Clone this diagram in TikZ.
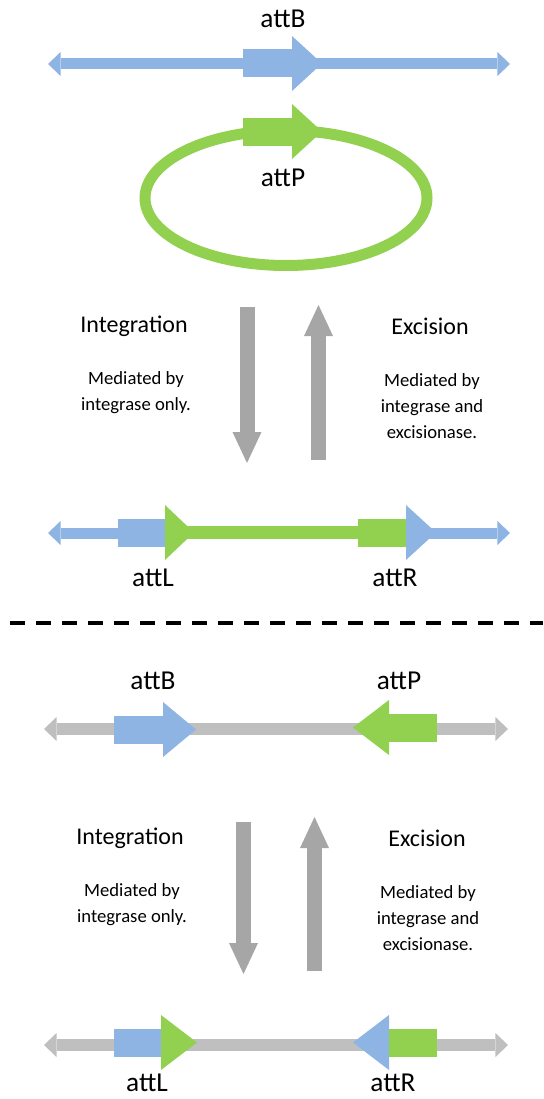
\documentclass[tikz,border=0pt]{standalone}
\usepackage{fontspec}
\setmainfont{Carlito}
\usepackage{tikz}
\usetikzlibrary{arrows.meta}
\definecolor{attblue}{HTML}{8EB4E3}
\definecolor{attgreen}{HTML}{92D050}
\definecolor{flowgray}{HTML}{A6A6A6}
\definecolor{dnagray}{HTML}{BFBFBF}
\tikzset{
  dnatip/.tip={Triangle[length=9.4pt,width=18pt,line width=0pt]},
  flowtip/.tip={Triangle[length=23.25pt,width=21.75pt,line width=0pt]}
}

\begin{document}
\begin{tikzpicture}[x=0.75pt,y=-0.75pt,
  lbl/.style={font=\fontsize{18}{21.6}\selectfont,inner sep=0pt},
  sitelbl/.style={font=\fontsize{20.5}{24}\selectfont,inner sep=0pt},
  note/.style={font=\fontsize{14}{19.5}\selectfont,align=center,inner sep=0pt},
  dnaline/.style={line width=8.25pt},
  flow/.style={flowgray,line width=11.25pt,-flowtip}]
\useasboundingbox (0,0) rectangle (543,1099);

\node[sitelbl] (attBa) at (283,19) {attB};
\draw[dnaline,attblue,dnatip-dnatip] (48,64)--(510,64);
\fill[attblue](243,49.5)rectangle(292,77.5);
\fill[attblue](292,36)--(322,63.5)--(292,91)--cycle;
\draw[attgreen,line width=8.25pt] (286,198) ellipse [x radius=141,y radius=67.5];
\fill[attgreen](243,117.5)rectangle(292,145.5);
\fill[attgreen](292,104)--(322,131.5)--(292,159)--cycle;
\node[sitelbl] (attPa) at (283,178) {attP};

\node[lbl] (intA) at (134,326) {Integration};
\node[note] (intnoteA) at (136,393) {Mediated by\\integrase only.};
\node[lbl] (excA) at (430,326) {Excision};
\node[note] (excnoteA) at (432,406) {Mediated by\\integrase and\\excisionase.};
\draw[flow] (247,307)--(247,463);
\draw[flow] (318.5,460)--(318.5,305);

\draw[attgreen,line width=9.75pt] (180,532.5)--(380,532.5);
\draw[dnaline,attblue,dnatip-] (48,533)--(125,533);
\fill[attblue](118,518.5)rectangle(165,546.5);
\fill[attgreen](165,505)--(194,532.5)--(165,560)--cycle;
\fill[attgreen](358,518.5)rectangle(406,546.5);
\fill[attblue](406,505)--(436,532.5)--(406,560)--cycle;
\draw[dnaline,attblue,-dnatip] (425,533)--(510,533);
\node[sitelbl] (attLa) at (153,578) {attL};
\node[sitelbl] (attRa) at (395,578) {attR};

\draw[line width=3pt,dash pattern=on 11.25pt off 8.25pt] (10,623)--(543,623);

\node[sitelbl] (attBb) at (153,681) {attB};
\node[sitelbl] (attPb) at (399,681) {attP};
\draw[dnagray,line width=9pt,dnatip-dnatip] (44,729)--(508,729);
\fill[attblue](114,715.5)rectangle(163,743.5);
\fill[attblue](163,702)--(196,729.5)--(163,757)--cycle;
\fill[attgreen](389,713.5)rectangle(437,741.5);
\fill[attgreen](389,700)--(353,727.5)--(389,755)--cycle;

\node[lbl] (intB) at (130,838) {Integration};
\node[note] (intnoteB) at (132,905) {Mediated by\\integrase only.};
\node[lbl] (excB) at (427,838) {Excision};
\node[note] (excnoteB) at (428,918) {Mediated by\\integrase and\\excisionase.};
\draw[flow] (243.5,822)--(243.5,974);
\draw[flow] (314.5,971)--(314.5,817);

\draw[dnagray,line width=9pt,dnatip-dnatip] (44,1045)--(508,1045);
\fill[attblue](114,1029)rectangle(161,1057);
\fill[attgreen](161,1015)--(197,1042.5)--(161,1070)--cycle;
\fill[attblue](389,1015)--(353,1042.5)--(389,1070)--cycle;
\fill[attgreen](389,1029)rectangle(437,1057);
\node[sitelbl] (attLb) at (147,1083) {attL};
\node[sitelbl] (attRb) at (393,1083) {attR};
\end{tikzpicture}
\end{document}
